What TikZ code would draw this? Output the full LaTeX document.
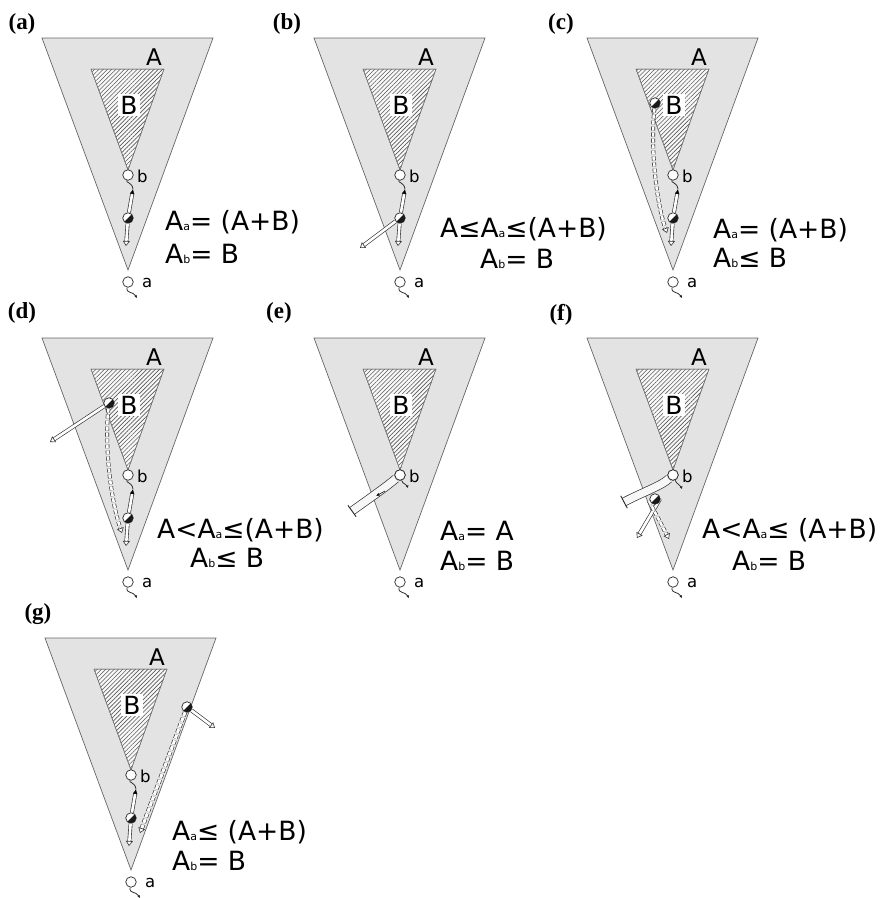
\documentclass[tikz,border=0pt]{standalone}
\usepackage{fontspec}
\setmainfont{DejaVu Sans}
\newfontfamily\lblfont{Liberation Serif}
\usetikzlibrary{patterns.meta,arrows.meta,calc}

\newcommand\sa{\raisebox{-0.3pt}{\fontsize{11}{11}\selectfont a}}
\newcommand\sbb{\raisebox{-0.3pt}{\fontsize{11}{11}\selectfont b}}

\newcommand\panelbase[1]{%
  \filldraw[outertri] (42,38) -- (213,38) -- (128,270) -- cycle;
  \fill[innertri] (91,69) -- (164,69) -- (128,170) -- cycle;
  \fill[hatch] (91,69) -- (164,69) -- (128,170) -- cycle;
  \draw[innertri, fill=none] (91,69) -- (164,69) -- (128,170) -- cycle;
  \node[biglbl] (#1A) at (154,57) {A};
  \node[biglbl, font=\fontsize{25}{25}\selectfont, fill=white, inner sep=2pt] (#1B) at (129,105) {B};
  \node[cw] (#1b) at (128,175) {};
  \node[ptlabel] (#1lb) at (137,176) {b};
  \node[cw] (#1a) at (128,282) {};
  \node[ptlabel] (#1la) at (142,283) {a};
  \coordinate (#1aq) at (137,298);
  \draw[squig, -{Latex[length=2.5pt,width=3pt]}] (#1a) .. controls (126,294) and (133,291) .. (#1aq);
}
\newcommand\halfcirc[2]{%
  \node[cw] (#1) at #2 {};
  \fill[black!90] ($(#1)+(-45:5.2)$) arc[start angle=-45, end angle=135, radius=5.2] -- cycle;
}
\newcommand\midstack[1]{%
  \halfcirc{#1m}{(128,218)}
  \coordinate (#1up) at (133,189);
  \coordinate (#1dn) at (126,246);
  \draw[squig] (#1b) .. controls (126,183) and (132,182) .. (#1up);
  \draw[hollow, shorten >=4pt] (#1m) -- (#1up);
  \draw[blacktip] ($(#1up)!5pt!(#1m)$) -- (#1up);
  \draw[hollow, shorten >=4pt] (#1m) -- (#1dn);
  \draw[holtip] ($(#1dn)!5pt!(#1m)$) -- (#1dn);
}

\begin{document}
\begin{tikzpicture}[x=1pt,y=-1pt,
  outertri/.style={fill=gray!22, draw=black!60, line width=0.7pt},
  innertri/.style={fill=gray!5, draw=black!55, line width=0.5pt},
  hatch/.style={pattern={Lines[angle=45,distance=3pt,line width=0.6pt]}, pattern color=black!65},
  cw/.style={circle, draw=black!85, fill=white, line width=0.7pt, minimum size=10.5pt, inner sep=0pt},
  ptlabel/.style={font=\fontsize{16.5}{16.5}\selectfont, inner sep=0pt, anchor=west},
  biglbl/.style={font=\fontsize{23}{23}\selectfont, inner sep=3pt},
  panellbl/.style={font=\lblfont\bfseries\fontsize{23}{23}\selectfont, inner sep=0pt},
  eqn/.style={font=\fontsize{26.5}{26.5}\selectfont, inner sep=0pt, anchor=base west},
  hollow/.style={draw=black!80, line width=0.65pt, double=white, double distance=2.6pt},
  dsh/.style={dash pattern=on 4pt off 2pt},
  holtip/.style={draw=black!80, line width=0.6pt, -{Triangle[length=5pt,width=7pt,fill=white]}},
  blacktip/.style={draw=black, line width=0.5pt, -{Latex[length=5pt,width=4.5pt]}},
  squig/.style={draw=black!85, line width=0.75pt},
  tube/.style={draw=black!80, line width=0.7pt, double=gray!6, double distance=7.5pt},
  tubecap/.style={draw=black!85, line width=0.9pt},
]
\useasboundingbox (0,0) rectangle (883,898);

% panel labels
\node[panellbl] (la) at (22,24) {(a)};
\node[panellbl] (lb) at (287,24) {(b)};
\node[panellbl] (lc) at (561,24) {(c)};
\node[panellbl] (ld) at (22,313) {(d)};
\node[panellbl] (le) at (279,313) {(e)};
\node[panellbl] (lf) at (561,315) {(f)};
\node[panellbl] (lg) at (38,614) {(g)};

% (a)
\begin{scope}
  \panelbase{a}
  \midstack{a}
  \node[eqn] (aeq1) at (165,230) {A\sa= (A+B)};
  \node[eqn] (aeq2) at (165,263) {A\sbb= B};
\end{scope}

% (b)
\begin{scope}[shift={(272,0)}]
  \panelbase{b}
  \midstack{b}
  \coordinate (bfar) at (88,248);
  \draw[hollow, shorten >=4pt] (bm) -- (bfar);
  \draw[holtip] ($(bfar)!5pt!(bm)$) -- (bfar);
  \node[eqn] (beq1) at (168,237) {A≤A\sa≤(A+B)};
  \node[eqn] (beq2) at (208,268) {A\sbb= B};
\end{scope}

% (c)
\begin{scope}[shift={(545,0)}]
  \panelbase{c}
  \midstack{c}
  \halfcirc{cc}{(110,103)}
  \coordinate (cend) at (122,233);
  \coordinate (cctl) at (112,205);
  \draw[hollow, dsh, shorten >=4pt] (cc) .. controls (105,150) and (cctl) .. (cend);
  \draw[holtip] ($(cend)!5pt!(cctl)$) -- (cend);
  \node[eqn] (ceq1) at (168,238) {A\sa= (A+B)};
  \node[eqn] (ceq2) at (168,267) {A\sbb≤ B};
\end{scope}

% (d)
\begin{scope}[shift={(0,300)}]
  \panelbase{d}
  \midstack{d}
  \halfcirc{dc}{(109,103)}
  \coordinate (dend) at (122,233);
  \coordinate (dctl) at (112,205);
  \draw[hollow, dsh, shorten >=4pt] (dc) .. controls (104,150) and (dctl) .. (dend);
  \draw[holtip] ($(dend)!5pt!(dctl)$) -- (dend);
  \coordinate (dfar) at (50,142);
  \draw[hollow, shorten >=4pt] (dc) -- (dfar);
  \draw[holtip] ($(dfar)!5pt!(dc)$) -- (dfar);
  \node[eqn] (deq1) at (157,238) {A<A\sa≤(A+B)};
  \node[eqn] (deq2) at (190,267) {A\sbb≤ B};
\end{scope}

% (e)
\begin{scope}[shift={(272,300)}]
  \panelbase{e}
  \coordinate (ete) at (80,211);
  \coordinate (etc) at (98,198);
  \draw[tube] (eb) .. controls (114,187) and (etc) .. (ete);
  \draw[tubecap] ($(ete)!7pt!90:(etc)$) -- ($(ete)!7pt!-90:(etc)$);
  \coordinate (ei1) at (113,191);
  \coordinate (ei2) at (104,196);
  \draw[draw=black, line width=0.6pt, -{Latex[length=3.5pt,width=3pt]}] (ei1) -- (ei2);
  \node[cw] (eb2) at (eb) {};
  \coordinate (eq) at (136,188);
  \draw[squig, -{Latex[length=2.5pt,width=3pt]}] (eb2) .. controls (131,185) and (134,183) .. (eq);
  \node[eqn] (eeq1) at (168,240) {A\sa= A};
  \node[eqn] (eeq2) at (168,270) {A\sbb= B};
\end{scope}

% (f)
\begin{scope}[shift={(545,300)}]
  \panelbase{f}
  \coordinate (fte) at (79,202);
  \coordinate (ftc) at (98,192);
  \draw[tube] (fb) .. controls (116,186) and (ftc) .. (fte);
  \draw[tubecap] ($(fte)!7pt!90:(ftc)$) -- ($(fte)!7pt!-90:(ftc)$);
  \node[cw] (fb2) at (fb) {};
  \coordinate (fq) at (137,189);
  \draw[squig, -{Latex[length=2.5pt,width=3pt]}] (fb2) .. controls (132,185) and (135,184) .. (fq);
  \coordinate (ffs1) at (115,199);
  \coordinate (ffs2) at (104,201);
  \coordinate (ff1) at (92,238);
  \coordinate (ff2) at (124,239);
  \draw[hollow, shorten >=4pt] (ffs1) -- (ff1);
  \draw[holtip] ($(ff1)!5pt!(ffs1)$) -- (ff1);
  \draw[hollow, dsh, shorten >=4pt] (ffs2) -- (ff2);
  \draw[holtip] ($(ff2)!5pt!(ffs2)$) -- (ff2);
  \halfcirc{fc}{(110,199)}
  \node[eqn] (feq1) at (157,238) {A<A\sa≤ (A+B)};
  \node[eqn] (feq2) at (187,270) {A\sbb= B};
\end{scope}

% (g)
\begin{scope}[shift={(3,600)}]
  \panelbase{g}
  \midstack{g}
  \halfcirc{gc}{(184,107)}
  \coordinate (gf1) at (212,128);
  \coordinate (gf2) at (137,233);
  \draw[hollow, shorten >=4pt] (gc) -- (gf1);
  \draw[holtip] ($(gf1)!5pt!(gc)$) -- (gf1);
  \draw[hollow, dsh, double distance=3pt, shorten >=4pt] (gc) -- (gf2);
  \draw[holtip] ($(gf2)!5pt!(gc)$) -- (gf2);
  \node[eqn] (geq1) at (169,240) {A\sa≤ (A+B)};
  \node[eqn] (geq2) at (169,270) {A\sbb= B};
\end{scope}
\end{tikzpicture}
\end{document}
